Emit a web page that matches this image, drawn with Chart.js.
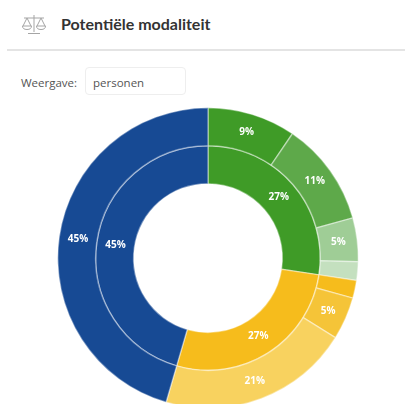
<!DOCTYPE html>
<html lang="nl">
<head>
<meta charset="utf-8">
<title>Potentiële modaliteit</title>
<script src="https://cdn.jsdelivr.net/npm/chart.js@4"></script>
<style>
  html, body { margin: 0; width: 405px; height: 404px; overflow: hidden; background: #fff; }
  body { position: relative; font-family: "Open Sans", sans-serif; color: #333; filter: blur(0.4px); }
  .icon { position: absolute; left: 21px; top: 13px; }
  h1 { position: absolute; left: 61px; top: 14px; margin: 0; font-family: Lato, sans-serif; font-size: 16px; line-height: 20px; font-weight: 700; color: #333; }
  .rule { position: absolute; left: 7px; right: 0; top: 49px; height: 2px; background: #e4e4e4; }
  label { position: absolute; left: 21px; top: 74px; font-size: 11.5px; line-height: 17px; color: #555; }
  .select { position: absolute; left: 85px; top: 67px; width: 99px; height: 26px; border: 1px solid #eee; border-radius: 4px;
    font-size: 11.5px; line-height: 30px; text-indent: 7px; color: #555; }
  .wrap { position: absolute; left: 57px; top: 107px; width: 302px; height: 302px; }
</style>
</head>
<body>
<svg class="icon" width="26" height="24" viewBox="0 0 26 24" fill="none" stroke="#a5a5a5" stroke-width="1">
  <path d="M13 2V19M7 20.5H19M3 5H23M6 5 2 13M6 5 10 13M20 5 16 13M20 5 24 13"/>
  <path d="M1.5 13a4.5 3.5 0 0 0 9 0ZM15.5 13a4.5 3.5 0 0 0 9 0Z"/>
</svg>
<h1>Potentiële modaliteit</h1>
<div class="rule"></div>
<label>Weergave:</label>
<div class="select">personen</div>
<div class="wrap"><canvas id="chart"></canvas></div>
<script>
const outerValues = [9.5, 11.2, 4.7, 2.0, 1.9, 4.6, 20.6, 45.5];
const outerLabels = ["9%", "11%", "5%", "", "", "5%", "21%", "45%"];
const outerColors = ["#3f9b27", "#5ea94a", "#9fcd96", "#c4e0bf", "#f6bc1c", "#f5c438", "#f8d25f", "#174a94"];

const innerValues = [27.4, 27.1, 45.5];
const innerLabels = ["27%", "27%", "45%"];
const innerColors = ["#3f9b27", "#f6bc1c", "#174a94"];

const ringLabels = [outerLabels, innerLabels];

const labelPlugin = {
  id: "ringLabels",
  afterDatasetsDraw(chart) {
    const { ctx } = chart;
    ctx.save();
    ctx.font = "700 10px 'Open Sans', sans-serif";
    ctx.fillStyle = "#fff";
    ctx.textAlign = "center";
    ctx.textBaseline = "middle";
    chart.data.datasets.forEach((ds, i) => {
      chart.getDatasetMeta(i).data.forEach((arc, j) => {
        const pos = arc.tooltipPosition();
        ctx.fillText(ringLabels[i][j], pos.x, pos.y);
      });
    });
    ctx.restore();
  },
};

new Chart(document.getElementById("chart"), {
  type: "doughnut",
  data: {
    datasets: [
      { data: outerValues, backgroundColor: outerColors, borderColor: "rgba(255,255,255,0.4)", borderWidth: 1.5 },
      { data: innerValues, backgroundColor: innerColors, borderColor: "rgba(255,255,255,0.4)", borderWidth: 1.5 },
    ],
  },
  options: {
    responsive: true,
    maintainAspectRatio: true,
    animation: false,
    cutout: "49.5%",
    layout: { padding: 0 },
    plugins: { legend: { display: false }, tooltip: { enabled: false } },
  },
  plugins: [labelPlugin],
});
</script>
</body>
</html>
